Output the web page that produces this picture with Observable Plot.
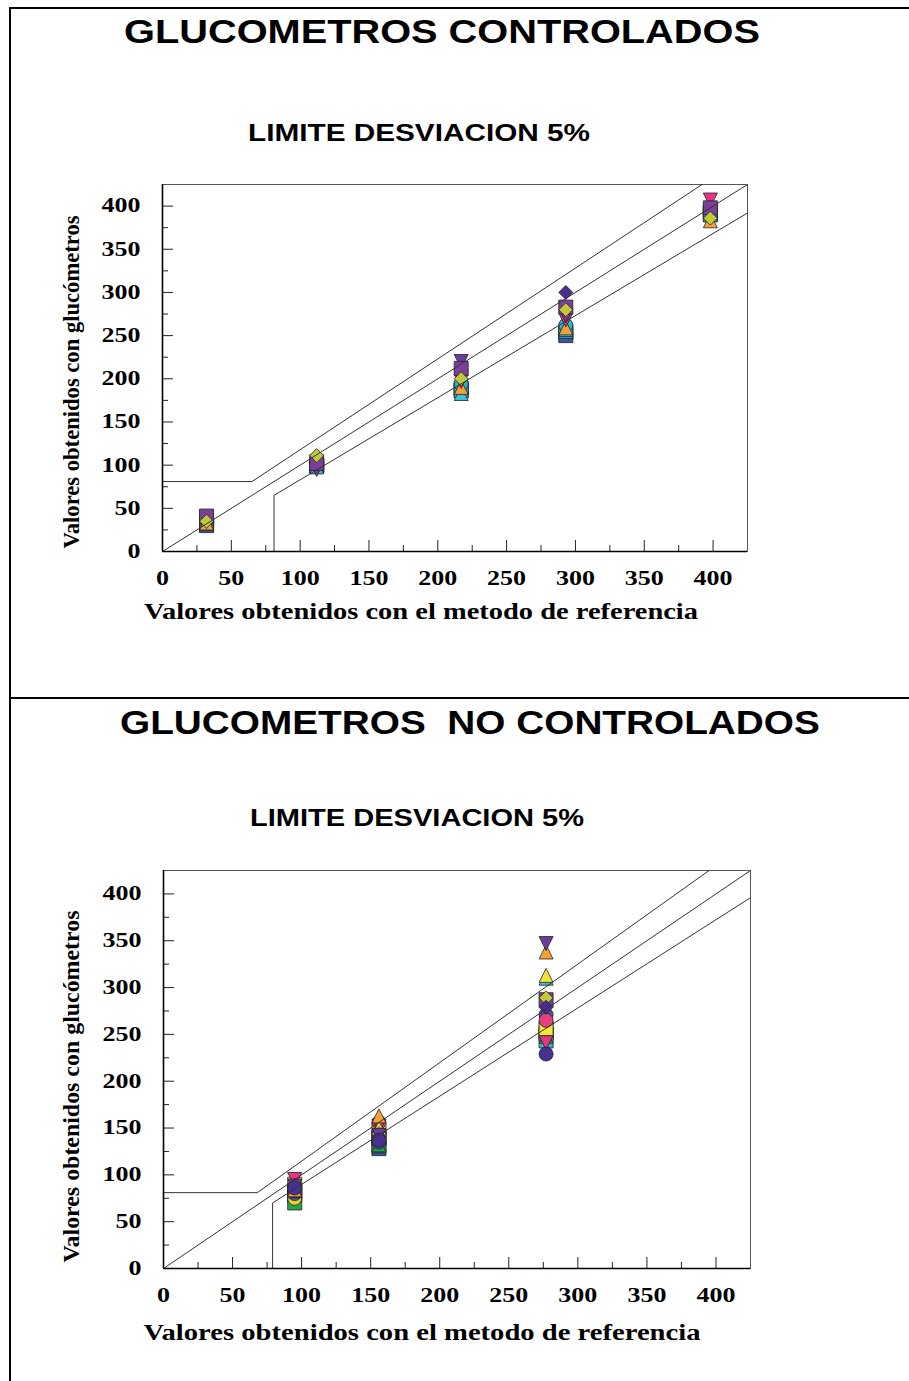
<!DOCTYPE html>
<html>
<head>
<meta charset="utf-8">
<script src="https://cdn.jsdelivr.net/npm/d3@7"></script>
<script src="https://cdn.jsdelivr.net/npm/@observablehq/plot@0.6"></script>
<style>
  body { margin: 0; background: #fff; }
  #page { position: relative; width: 909px; height: 1381px; overflow: hidden; background: #fff;
          font-family: "Liberation Sans", Arial, sans-serif; }
  .rule { position: absolute; background: #000; }
  .title { position: absolute; white-space: nowrap; font-weight: bold; color: #000; line-height: 1;
           transform-origin: center center; }
  .chart { position: absolute; left: 0; }
  .chart svg { display: block; overflow: visible; }
</style>
</head>
<body>
<div id="page">
  <div class="rule" style="left:9px;top:7px;width:2px;height:1374px"></div>
  <div class="rule" style="left:9px;top:7px;width:900px;height:2px"></div>
  <div class="rule" style="left:9px;top:697px;width:900px;height:2px"></div>

  <div class="title" data-cx="442" data-cy="31" data-w="636" style="font-size:34px">GLUCOMETROS CONTROLADOS</div>
  <div class="title" data-cx="419" data-cy="133" data-w="342" style="font-size:24px">LIMITE DESVIACION 5%</div>
  <div class="title" data-cx="470" data-cy="722" data-w="700" style="font-size:34px">GLUCOMETROS&nbsp;&nbsp;NO CONTROLADOS</div>
  <div class="title" data-cx="417" data-cy="818" data-w="334" style="font-size:24px">LIMITE DESVIACION 5%</div>

  <div class="chart" id="chartTop" style="top:150px"></div>
  <div class="chart" id="chartBottom" style="top:836px"></div>
</div>

<script>
// ---- axis text and ticks ----
const yAxisLabel = "Valores obtenidos con glucómetros";
const xAxisLabel = "Valores obtenidos con el metodo de referencia";
const majorTicks = [0, 50, 100, 150, 200, 250, 300, 350, 400];
const minorTicks = [25, 75, 125, 175, 225, 275, 325, 375];
const axisDomain = [0, 425];

// ---- glucometer marker styles (index = meter id) ----
const meterSymbols = ["square", "triDown", "diamond", "circle", "triUp", "square", "triUp", "square", "diamond",
                      "triDown", "circle", "circle", "square", "triUp", "square", "circle", "triUp", "circle"];
const meterColors  = ["#7b3f99", "#6a3c9e", "#c3c73a", "#22b7cf", "#f6a03a", "#3a55a6", "#3ec2d8", "#2aa34a", "#4a2d8e",
                      "#e9357f", "#47308f", "#3c56aa", "#f2e737", "#23a14b", "#2bb7cd", "#e8407f", "#f0e23a", "#e4d630"];

// ---- controlled glucometers: reference values and readings per meter ----
const refControlados = [32, 112, 217, 293, 398];
const metersControlados = [8, 7, 5, 14, 6, 3, 4, 9, 1, 0, 2];
const readingsControlados = [
  [34, 103, 210, 300, 395],
  [31, 100, 189, 253, 392],
  [30,  99, 187, 250, 393],
  [33, 100, 186, 255, 390],
  [36,  98, 183, 257, 390],
  [37, 101, 194, 262, 391],
  [33, 106, 190, 259, 383],
  [35, 104, 197, 268, 407],
  [38,  95, 220, 273, 394],
  [41, 102, 212, 283, 398],
  [35, 111, 200, 280, 386]
];
// limit lines (upper, identity, lower) as vertices
const upperControlados = [[0, 81], [65, 81], [392, 425]];
const identityControlados = [[0, 0], [425, 425]];
const lowerControlados = [[81, 0], [81, 65], [425, 392]];

// ---- non-controlled glucometers ----
const refNoControlados = [95, 156, 277];
const metersNoControlados = [5, 7, 14, 13, 17, 12, 11, 15, 9, 6, 16, 0, 2, 8, 4, 1, 10];
const readingsNoControlados = [
  [78, 128, 250],
  [70, 131, 252],
  [82, 139, 243],
  [93, 132, 248],
  [75, 145, 262],
  [90, 148, 256],
  [80, 135, 271],
  [88, 156, 265],
  [95, 152, 241],
  [84, 148, 310],
  [89, 150, 313],
  [83, 141, 287],
  [87, 144, 289],
  [85, 140, 279],
  [84, 163, 338],
  [88, 142, 347],
  [86, 137, 229]
];
const upperNoControlados = [[0, 81], [68, 81], [395, 425]];
const identityNoControlados = [[0, 0], [425, 425]];
const lowerNoControlados = [[79, 0], [79, 70], [425, 396]];

// ---- custom marker shapes (d3 symbol-type objects) ----
const shapes = {
  square:  {draw(c, size) { const h = Math.sqrt(size / Math.PI) * 0.9; c.rect(-h, -h, 2 * h, 2 * h); }},
  circle:  {draw(c, size) { const h = Math.sqrt(size / Math.PI) * 0.9; c.moveTo(h, 0); c.arc(0, 0, h, 0, 2 * Math.PI); }},
  triUp:   {draw(c, size) { const h = Math.sqrt(size / Math.PI) * 0.9; c.moveTo(0, -h); c.lineTo(h, h); c.lineTo(-h, h); c.closePath(); }},
  triDown: {draw(c, size) { const h = Math.sqrt(size / Math.PI) * 0.9; c.moveTo(0, h); c.lineTo(h, -h); c.lineTo(-h, -h); c.closePath(); }},
  diamond: {draw(c, size) { const h = Math.sqrt(size / Math.PI) * 0.9; c.moveTo(0, -h); c.lineTo(h, 0); c.lineTo(0, h); c.lineTo(-h, 0); c.closePath(); }}
};

const serif = "'Liberation Serif', 'Times New Roman', serif";

function drawChart(el, cfg) {
  const {refs, meters, readings, upper, identity, lower, width, height,
         marginTop, marginBottom, marginLeft, marginRight,
         xLabelDx, xLabelDy, yLabelDx, yLabelDy, xLabelLen, yLabelLen} = cfg;
  const innerW = width - marginLeft - marginRight;
  const innerH = height - marginTop - marginBottom;

  const dotMarks = meters.map((m, i) => {
    const pts = refs.map((x, j) => ({x, y: readings[i][j]})).filter(d => d.y != null);
    return Plot.dot(pts, {x: "x", y: "y", symbol: shapes[meterSymbols[m]], r: 7.8,
                          fill: meterColors[m], stroke: "#222", strokeWidth: 0.8});
  });
  const lineOpts = {x: d => d[0], y: d => d[1], stroke: "#333", strokeWidth: 1, clip: true};
  const labelFont = {fontFamily: serif, fontWeight: "bold", fill: "#000", lineAnchor: "middle"};

  const svg = Plot.plot({
    width, height, marginTop, marginBottom, marginLeft, marginRight,
    x: {domain: axisDomain, axis: null},
    y: {domain: axisDomain, axis: null},
    style: {background: "transparent", overflow: "visible"},
    marks: [
      Plot.frame({stroke: "#555", strokeWidth: 1}),
      Plot.tickX(minorTicks, {x: d => d, insetTop: innerH - 6, stroke: "#222"}),
      Plot.tickX(majorTicks, {x: d => d, insetTop: innerH - 11, stroke: "#222"}),
      Plot.tickY(minorTicks, {y: d => d, insetRight: innerW - 6, stroke: "#222"}),
      Plot.tickY(majorTicks, {y: d => d, insetRight: innerW - 11, stroke: "#222"}),
      ...dotMarks,
      Plot.line(upper, lineOpts),
      Plot.line(identity, lineOpts),
      Plot.line(lower, lineOpts),
      Plot.ruleY([0], {stroke: "#000", strokeWidth: 1.6}),
      Plot.ruleX([0], {stroke: "#000", strokeWidth: 1.6}),
      // text marks, in this order: x tick labels, y tick labels, x title, y title
      Plot.text(majorTicks, {x: d => d, frameAnchor: "bottom", dy: 27, text: d => String(d),
                             textAnchor: "middle", fontSize: 20, ...labelFont}),
      Plot.text(majorTicks, {y: d => d, frameAnchor: "left", dx: -22, textAnchor: "end", text: d => String(d),
                             fontSize: 20, ...labelFont}),
      Plot.text([xAxisLabel], {frameAnchor: "bottom", dx: xLabelDx, dy: xLabelDy, text: d => d,
                               textAnchor: "middle", fontSize: 23, ...labelFont}),
      Plot.text([yAxisLabel], {frameAnchor: "left", dx: yLabelDx, dy: yLabelDy, rotate: -90, text: d => d,
                               textAnchor: "middle", fontSize: 24, ...labelFont})
    ]
  });
  el.appendChild(svg);

  // widen the bold serif labels to the proportions of the chart lettering
  const groups = svg.querySelectorAll('g[aria-label="text"]');
  const [xTickG, yTickG, xTitleG, yTitleG] = groups;
  const stretch = (g, lenOf) => g && g.querySelectorAll("text").forEach(t => {
    t.setAttribute("textLength", lenOf(t).toFixed(1));
    t.setAttribute("lengthAdjust", "spacingAndGlyphs");
  });
  stretch(xTickG, t => t.getComputedTextLength() * 1.3);
  stretch(yTickG, t => t.getComputedTextLength() * 1.3);
  stretch(xTitleG, () => xLabelLen);
  stretch(yTitleG, () => yLabelLen);
}

drawChart(document.getElementById("chartTop"), {
  refs: refControlados, meters: metersControlados, readings: readingsControlados,
  upper: upperControlados, identity: identityControlados, lower: lowerControlados,
  width: 909, height: 476, marginTop: 34, marginBottom: 75, marginLeft: 162, marginRight: 162,
  xLabelDx: -34, xLabelDy: 60, yLabelDx: -91, yLabelDy: 14, xLabelLen: 554, yLabelLen: 333
});

drawChart(document.getElementById("chartBottom"), {
  refs: refNoControlados, meters: metersNoControlados, readings: readingsNoControlados,
  upper: upperNoControlados, identity: identityNoControlados, lower: lowerNoControlados,
  width: 909, height: 512, marginTop: 34, marginBottom: 80, marginLeft: 163, marginRight: 159,
  xLabelDx: -35, xLabelDy: 64, yLabelDx: -92, yLabelDy: 17, xLabelLen: 557, yLabelLen: 352
});

// center and stretch the headings to their set widths
document.querySelectorAll(".title").forEach(el => {
  const w = el.offsetWidth, h = el.offsetHeight;
  const k = +el.dataset.w / w;
  el.style.left = (+el.dataset.cx - w / 2) + "px";
  el.style.top = (+el.dataset.cy - h / 2) + "px";
  el.style.transform = `scaleX(${k.toFixed(3)})`;
});
</script>
</body>
</html>
